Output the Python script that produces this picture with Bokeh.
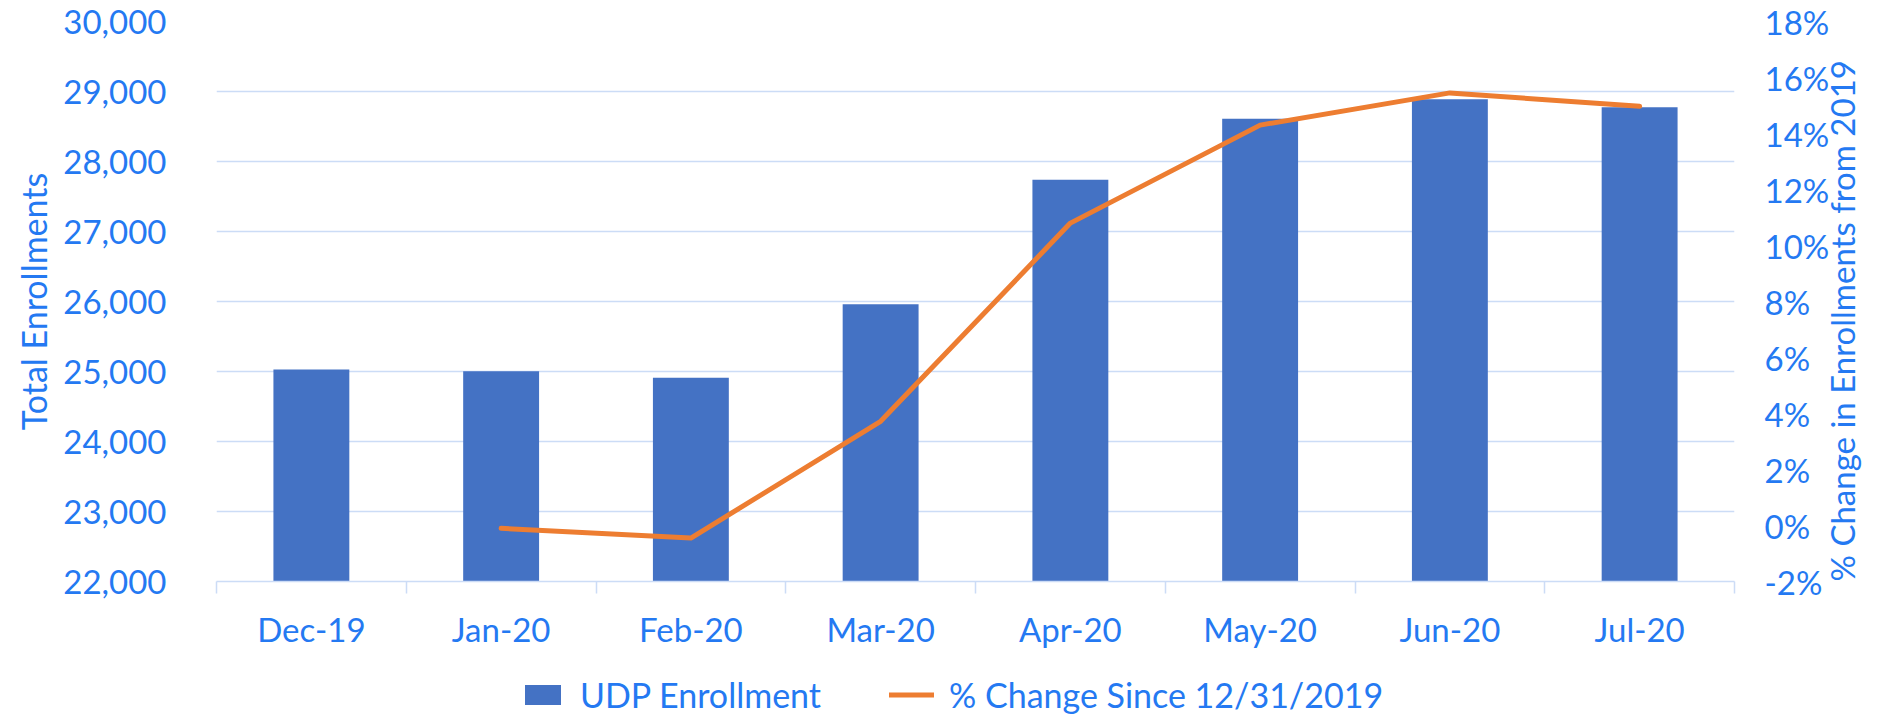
import math
from bokeh.plotting import figure
from bokeh.layouts import column
from bokeh.models import (Range1d, LinearAxis, FixedTicker,
                          NumeralTickFormatter, PrintfTickFormatter, Legend, LegendItem)
from bokeh.embed import file_html
from bokeh.resources import INLINE

# ---- data ----
months = ["Dec-19", "Jan-20", "Feb-20", "Mar-20", "Apr-20", "May-20", "Jun-20", "Jul-20"]
enrollment = [25030, 25005, 24910, 25960, 27740, 28610, 28890, 28775]
pct_months = ["Jan-20", "Feb-20", "Mar-20", "Apr-20", "May-20", "Jun-20", "Jul-20"]
pct_change = [-0.1, -0.45, 3.72, 10.8, 14.3, 15.45, 14.97]

left_ticks = [22000, 23000, 24000, 25000, 26000, 27000, 28000, 29000, 30000]
right_ticks = [-2, 0, 2, 4, 6, 8, 10, 12, 14, 16, 18]
left_title = "Total Enrollments"
right_title = "% Change in Enrollments from 2019"
series_names = ["UDP Enrollment", "% Change Since 12/31/2019"]

# ---- styles ----
TXT = "#2479F2"
GRID = "#CCDCF6"
BAR = "#4472C4"
LINE = "#ED7D31"
FONT = "Lato"
FS = "33px"
FS_LTITLE = "34px"
FS_RTITLE = "33px"
FS_LEG = "34px"

W = 1886
BL, BR = 216, 152

x_bar = [months.index(m) for m in months]
x_line = [months.index(m) for m in pct_months]

p = figure(width=W, height=652, output_backend="svg", toolbar_location=None,
           x_range=Range1d(-0.5, len(months) - 0.5), y_range=Range1d(22000, 30000),
           min_border_left=BL, min_border_right=BR, min_border_top=21, min_border_bottom=71)
p.outline_line_color = None

p.extra_y_ranges = {"pct": Range1d(-2, 18)}

bar_style = dict(color=BAR, line_color=None)
line_style = dict(line_color=LINE, line_width=5, line_cap="round", line_join="round")

bars = p.vbar(x=x_bar, top=enrollment, bottom=22000, width=0.4, **bar_style)
line = p.line(x=x_line, y=pct_change, y_range_name="pct", **line_style)

# x axis
xa = p.xaxis[0]
xa.ticker = FixedTicker(ticks=x_bar, minor_ticks=[i - 0.5 for i in range(len(months) + 1)])
xa.major_label_overrides = {i: m for i, m in enumerate(months)}
xa.major_tick_out = 0
xa.major_tick_in = 0
xa.minor_tick_out = 12
xa.minor_tick_in = 0
xa.minor_tick_line_color = GRID
xa.minor_tick_line_width = 1.5
xa.axis_line_color = GRID
xa.axis_line_width = 1.5
xa.major_label_text_font = FONT
xa.major_label_text_font_size = FS
xa.major_label_text_color = TXT
xa.major_label_standoff = 15

# left axis
ya = p.yaxis[0]
ya.ticker = FixedTicker(ticks=left_ticks)
ya.formatter = NumeralTickFormatter(format="0,0")
ya.axis_line_color = None
ya.major_tick_line_color = None
ya.minor_tick_line_color = None
ya.major_label_text_font = FONT
ya.major_label_text_font_size = FS
ya.major_label_text_color = TXT
ya.major_label_standoff = 44
ya.axis_label = left_title
ya.axis_label_text_font = FONT
ya.axis_label_text_font_size = FS_LTITLE
ya.axis_label_text_color = TXT
ya.axis_label_text_font_style = "normal"
ya.axis_label_standoff = 6

# right axis
ra = LinearAxis(y_range_name="pct", ticker=FixedTicker(ticks=right_ticks),
                formatter=PrintfTickFormatter(format="%d%%"))
ra.axis_line_color = None
ra.major_tick_line_color = None
ra.minor_tick_line_color = None
ra.major_label_text_font = FONT
ra.major_label_text_font_size = FS
ra.major_label_text_color = TXT
ra.major_label_standoff = 24
ra.axis_label = right_title
ra.axis_label_text_font = FONT
ra.axis_label_text_font_size = FS_RTITLE
ra.axis_label_text_color = TXT
ra.axis_label_text_font_style = "normal"
ra.axis_label_standoff = 10
ra.axis_label_orientation = math.pi / 2
ra.axis_label_align = "start"
p.add_layout(ra, "right")

p.xgrid.grid_line_color = None
p.ygrid.grid_line_color = GRID
p.ygrid.grid_line_width = 1.5

# legend strip below the chart (hidden copies of the series supply the legend glyphs)
lp = figure(width=W, height=63, output_backend="svg", toolbar_location=None,
            x_axis_location=None, y_axis_location=None,
            min_border_left=BL, min_border_right=BR, min_border_top=0, min_border_bottom=0)
lp.outline_line_color = None
lp.grid.visible = False
lb = lp.vbar(x=x_bar, top=enrollment, width=0.4, visible=False, **bar_style)
ll = lp.line(x=x_line, y=pct_change, visible=False, **line_style)
legend = Legend(items=[LegendItem(label=series_names[0], renderers=[lb]),
                       LegendItem(label=series_names[1], renderers=[ll])],
                orientation="horizontal", location=(304, 0),
                glyph_width=45, glyph_height=25, label_standoff=15, spacing=68,
                padding=0, margin=0, border_line_color=None, background_fill_alpha=0,
                inactive_fill_alpha=0,
                label_text_font=FONT, label_text_font_size=FS_LEG, label_text_color=TXT)
lp.add_layout(legend, "center")

layout = column(p, lp)
open("out.html", "w").write(file_html(layout, INLINE))
